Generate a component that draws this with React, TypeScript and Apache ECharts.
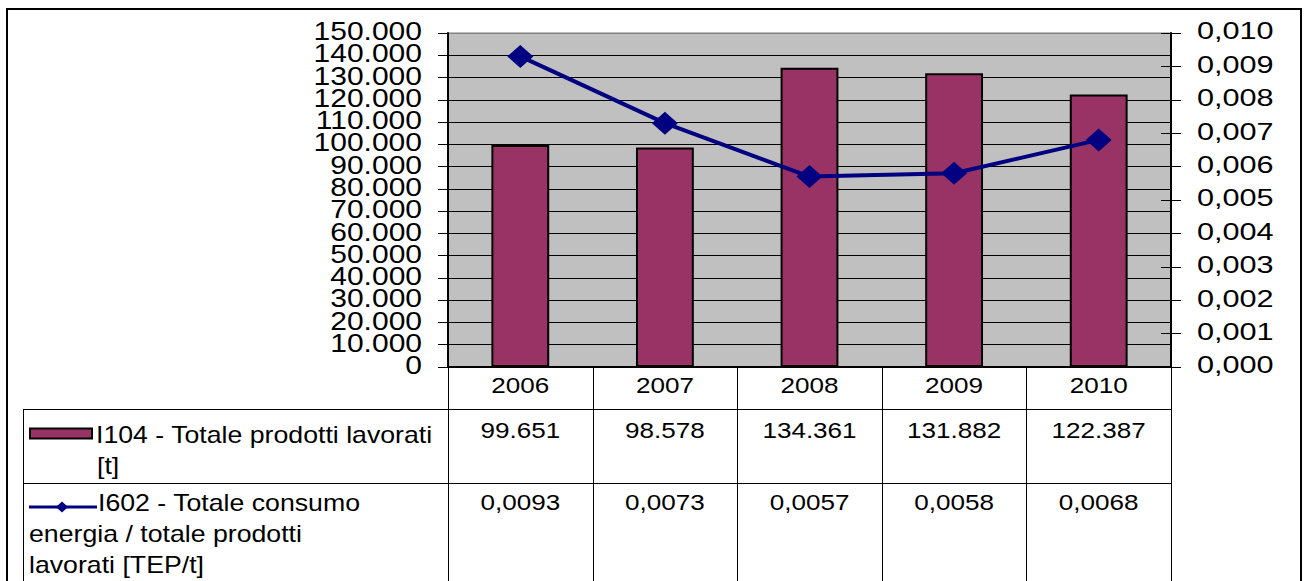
import React, { useEffect, useRef } from "react";
import * as echarts from "echarts";

const categories = ["2006", "2007", "2008", "2009", "2010"];
const barValues = [99651, 98578, 134361, 131882, 122387];
const lineValues = [0.0093, 0.0073, 0.0057, 0.0058, 0.0068];
const leftTicks = [0, 10000, 20000, 30000, 40000, 50000, 60000, 70000, 80000, 90000, 100000, 110000, 120000, 130000, 140000, 150000];
const rightTicks = [0, 0.001, 0.002, 0.003, 0.004, 0.005, 0.006, 0.007, 0.008, 0.009, 0.01];
const barName = "I104 - Totale prodotti lavorati [t]";
const lineName = "I602 - Totale consumo energia / totale prodotti lavorati [TEP/t]";
const barLegendLines = ["I104 - Totale prodotti lavorati", "[t]"];
const lineLegendLines = ["I602 - Totale consumo", "energia / totale prodotti", "lavorati [TEP/t]"];

const FONT = "Liberation Sans";
const BAR_COLOR = "#993366";
const LINE_COLOR = "#000080";

const fmtThousands = (v: number) =>
  String(Math.round(v)).replace(/\B(?=(\d{3})+(?!\d))/g, ".");
const fmtRight = (v: number) => v.toFixed(3).replace(".", ",");
const fmtLine = (v: number) => v.toFixed(4).replace(".", ",");

export default function App() {
  const ref = useRef<HTMLDivElement>(null);
  useEffect(() => {
    if (!ref.current) return;
    const chart = echarts.init(ref.current, undefined, { renderer: "svg" });
    const gridColors: string[] = [];
    for (let i = 0; i < 16; i++) gridColors.push(i === 15 ? "#808080" : "#000000");
    const option: any = {
      animation: false,
      backgroundColor: "#ffffff",
      textStyle: { fontFamily: FONT },
      grid: {
        left: 448,
        right: 133,
        top: 33,
        bottom: 214,
        show: true,
        backgroundColor: "#C0C0C0",
        borderColor: "#808080",
        borderWidth: 1,
      },
      xAxis: {
        type: "category",
        data: categories,
        axisLine: { lineStyle: { color: "#000", width: 2 } },
        axisTick: { show: false },
        axisLabel: { show: false },
      },
      yAxis: [
        {
          type: "value",
          min: 0,
          max: 150000,
          interval: 10000,
          position: "left",
          axisLine: { show: true, lineStyle: { color: "#000", width: 2 } },
          axisTick: { show: true, length: 10, lineStyle: { color: "#000", width: 1 } },
          axisLabel: { show: false },
          splitLine: { show: true, lineStyle: { color: gridColors, width: 1 } },
        },
        {
          type: "value",
          min: 0,
          max: 0.01,
          interval: 0.001,
          position: "right",
          axisLine: { show: true, lineStyle: { color: "#000", width: 2 } },
          axisTick: { show: true, length: 10, lineStyle: { color: "#000", width: 1 } },
          axisLabel: { show: false },
          splitLine: { show: false },
        },
        {
          type: "value",
          min: 0,
          max: 0.01,
          interval: 0.001,
          position: "right",
          axisLine: { show: false },
          axisTick: { show: true, inside: true, length: 10, lineStyle: { color: "#000", width: 1 } },
          axisLabel: { show: false },
          splitLine: { show: false },
        },
      ],
      series: [
        {
          name: barName,
          type: "bar",
          data: barValues,
          yAxisIndex: 0,
          barWidth: "40%",
          itemStyle: { color: BAR_COLOR, borderColor: "#000", borderWidth: 2 },
        },
        {
          name: lineName,
          type: "line",
          data: lineValues,
          yAxisIndex: 1,
          symbol: "diamond",
          symbolSize: [26, 23],
          lineStyle: { color: LINE_COLOR, width: 4 },
          itemStyle: { color: LINE_COLOR },
        },
      ],
    };
    chart.setOption(option);

    const c0 = chart.convertToPixel({ xAxisIndex: 0 }, 0) as number;
    const c1 = chart.convertToPixel({ xAxisIndex: 0 }, 1) as number;
    const step = c1 - c0;
    const yBase = chart.convertToPixel({ yAxisIndex: 0 }, 0) as number;
    const left = c0 - step / 2;
    const right = left + step * categories.length;
    const row1Top = 409;
    const row2Top = 483;
    const tableLeft = 23;
    const bottom = 600;
    const lineStyle = { stroke: "#000", lineWidth: 1 };
    const g: any[] = [];
    const txt = (text: string, x: number, y: number, size: number, sx: number, align: string) => ({
      type: "text",
      x,
      y,
      scaleX: sx,
      scaleY: 1,
      style: { text, fontFamily: FONT, fontSize: size, fill: "#000", align, verticalAlign: "middle" },
      silent: true,
    });
    g.push({
      type: "rect",
      shape: { x: 7, y: 9, width: 1294, height: 620 },
      style: { fill: "none", stroke: "#000", lineWidth: 2 },
      silent: true,
    });
    // left axis tick labels
    leftTicks.forEach((v) => {
      const y = chart.convertToPixel({ yAxisIndex: 0 }, v) as number;
      g.push(txt(fmtThousands(v), left - 26, y - 1.5, 25, 1.2, "right"));
    });
    // right axis tick labels
    rightTicks.forEach((v) => {
      const y = chart.convertToPixel({ yAxisIndex: 1 }, v) as number;
      g.push(txt(fmtRight(v), right + 26, y - 2, 24.5, 1.25, "left"));
    });
    for (let k = 0; k <= categories.length; k++) {
      const x = Math.round(left + k * step) + 0.5;
      g.push({ type: "line", shape: { x1: x, y1: yBase, x2: x, y2: bottom }, style: lineStyle, silent: true });
    }
    g.push({ type: "line", shape: { x1: tableLeft + 0.5, y1: row1Top, x2: tableLeft + 0.5, y2: bottom }, style: lineStyle, silent: true });
    [row1Top, row2Top].forEach((y) => {
      g.push({ type: "line", shape: { x1: tableLeft, y1: y + 0.5, x2: right, y2: y + 0.5 }, style: lineStyle, silent: true });
    });
    categories.forEach((cat, i) => {
      const cx = chart.convertToPixel({ xAxisIndex: 0 }, i) as number;
      g.push(txt(cat, cx, 385, 22.3, 1.17, "center"));
      g.push(txt(fmtThousands(barValues[i]), cx, 430, 22.3, 1.17, "center"));
      g.push(txt(fmtLine(lineValues[i]), cx, 502.5, 22.3, 1.17, "center"));
    });
    g.push({
      type: "rect",
      shape: { x: 30, y: 428.5, width: 62, height: 10 },
      style: { fill: BAR_COLOR, stroke: "#000", lineWidth: 2 },
      silent: true,
    });
    g.push({ type: "line", shape: { x1: 29, y1: 507, x2: 97, y2: 507 }, style: { stroke: LINE_COLOR, lineWidth: 3 }, silent: true });
    g.push({
      type: "polygon",
      shape: { points: [[62, 501.5], [68, 507], [62, 512.5], [56, 507]] },
      style: { fill: LINE_COLOR },
      silent: true,
    });
    const legendLinesPos: [string, number, number][] = [
      [barLegendLines[0], 96, 435],
      [barLegendLines[1], 97, 466],
      [lineLegendLines[0], 98, 503],
      [lineLegendLines[1], 29, 534],
      [lineLegendLines[2], 29, 565],
    ];
    legendLinesPos.forEach(([t, x, y]) => {
      g.push(txt(t, x, y, 23.2, 1.15, "left"));
    });
    chart.setOption({ graphic: g });
    return () => chart.dispose();
  }, []);
  return (
    <div
      ref={ref}
      style={{ position: "fixed", left: 0, top: 0, width: 1304, height: 581, background: "#fff" }}
    />
  );
}
